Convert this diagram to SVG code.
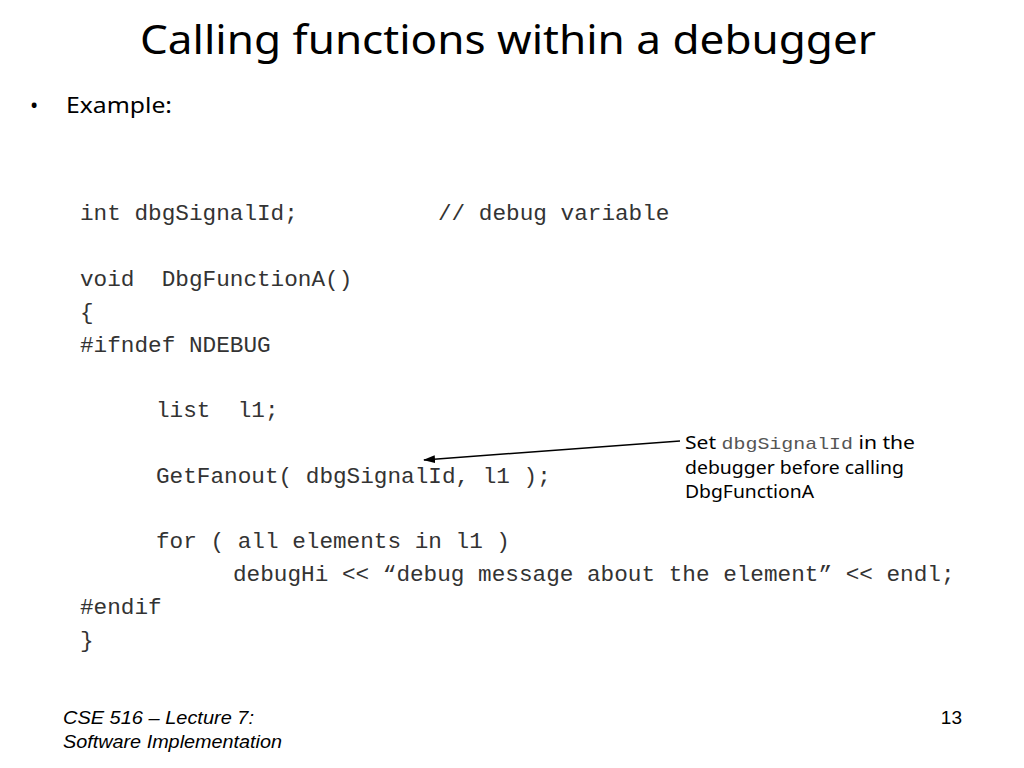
<svg xmlns="http://www.w3.org/2000/svg" width="1024" height="768" viewBox="0 0 1024 768" xml:space="preserve">
<style>
.title{font-family:"Comic Sans MS","Noto Sans","DejaVu Sans",sans-serif;font-size:40px;fill:#000}
.body{font-family:"Comic Sans MS","Noto Sans","DejaVu Sans",sans-serif;font-size:22px;fill:#000}
.code{font-family:"Liberation Mono","Courier New",monospace;font-size:22.7px;fill:#333;white-space:pre}
.note{font-family:"Comic Sans MS","Noto Sans","DejaVu Sans",sans-serif;font-size:18px;fill:#000}
.notecode{font-family:"Liberation Mono","Courier New",monospace;font-size:17px;fill:#555}
.foot{font-family:"Liberation Sans",Arial,sans-serif;font-size:19px;font-style:italic;fill:#000}
.num{font-family:"Liberation Sans",Arial,sans-serif;font-size:19px;fill:#000}
</style>
<defs>
<marker id="arr" markerWidth="12" markerHeight="8" refX="11" refY="4" orient="auto" markerUnits="userSpaceOnUse">
<path d="M0,0 L12,4 L0,8 Z" fill="#000"/>
</marker>
</defs>
<rect width="1024" height="768" fill="#fff"/>
<g id="title"><text class="title" x="508" y="54" text-anchor="middle" textLength="736" lengthAdjust="spacingAndGlyphs">Calling functions within a debugger</text></g>
<g id="bullet">
<text class="body" x="30" y="113">•</text>
<text class="body" x="66" y="113" textLength="106" lengthAdjust="spacingAndGlyphs">Example:</text>
</g>
<g id="code">
<text class="code" x="80" y="220">int dbgSignalId;</text>
<text class="code" x="438" y="220">// debug variable</text>
<text class="code" x="80" y="286">void  DbgFunctionA()</text>
<text class="code" x="80" y="319">{</text>
<text class="code" x="80" y="352">#ifndef NDEBUG</text>
<text class="code" x="156" y="417">list  l1;</text>
<text class="code" x="156" y="483">GetFanout( dbgSignalId, l1 );</text>
<text class="code" x="156" y="548">for ( all elements in l1 )</text>
<text class="code" x="233" y="581">debugHi &lt;&lt; “debug message about the element” &lt;&lt; endl;</text>
<text class="code" x="80" y="614">#endif</text>
<text class="code" x="80" y="647">}</text>
</g>
<g id="connectors">
<line x1="680" y1="441" x2="424" y2="460" stroke="#000" stroke-width="1.5" marker-end="url(#arr)"/>
</g>
<g id="note">
<text class="note" x="685" y="449" textLength="230" lengthAdjust="spacingAndGlyphs">Set <tspan class="notecode">dbgSignalId</tspan> in the</text>
<text class="note" x="685" y="474" textLength="219" lengthAdjust="spacingAndGlyphs">debugger before calling</text>
<text class="note" x="685" y="498" textLength="129" lengthAdjust="spacingAndGlyphs">DbgFunctionA</text>
</g>
<g id="footer">
<text class="foot" x="63" y="724" textLength="191" lengthAdjust="spacingAndGlyphs">CSE 516 – Lecture 7:</text>
<text class="foot" x="63" y="748" textLength="219" lengthAdjust="spacingAndGlyphs">Software Implementation</text>
<text class="num" x="962" y="724" text-anchor="end">13</text>
</g>
</svg>
